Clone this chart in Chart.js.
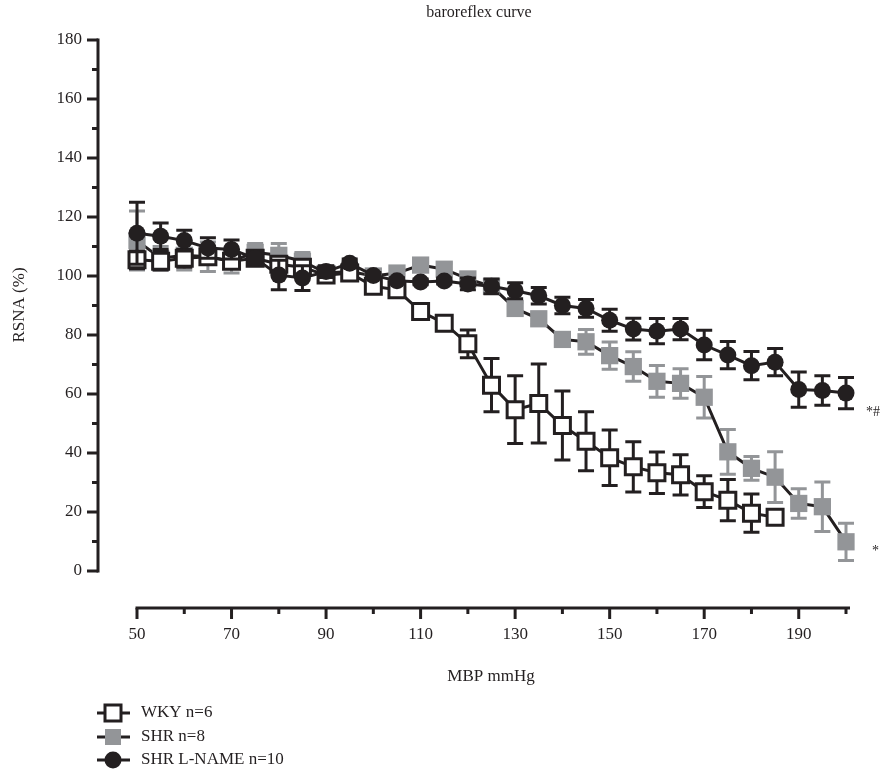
<!DOCTYPE html>
<html>
<head>
<meta charset="utf-8">
<script src="https://cdn.jsdelivr.net/npm/chart.js@4.4.1/dist/chart.umd.min.js"></script>
<style>
html, body { margin: 0; padding: 0; background: #fff; }
</style>
</head>
<body>
<canvas id="myChart" width="888" height="780"></canvas>
<script>
/* data */
const mbp = [50, 55, 60, 65, 70, 75, 80, 85, 90, 95, 100, 105, 110, 115, 120, 125,
    130, 135, 140, 145, 150, 155, 160, 165, 170, 175, 180, 185, 190, 195, 200];

const wky = [105.5, 105, 106, 106.5, 105, 106, 104, 103, 100.3, 101, 96.5, 95.3, 88, 84,
    77, 63, 54.7, 56.8, 49.3, 44, 38.4, 35.3, 33.3, 32.6, 26.9, 24, 19.6, 18.2];
const wkyErr = [3, 3, 3, 2, 2, 2, 2, 2, 1.5, 1.5, 1.5, 1.5, 2, 2.5, 4.7, 9, 11.5, 13.4,
    11.7, 10, 9.4, 8.5, 7, 6.8, 5.4, 7, 6.5, 2];

const shr = [112, 106, 107, 106.5, 105, 108, 107, 105, 101, 101.5, 100, 101, 103.7, 102.3,
    99, 96.5, 89, 85.5, 78.5, 77.7, 73, 69.3, 64.3, 63.6, 58.9, 40.4, 34.8, 31.8, 22.9, 21.8, 9.9];
const shrErr = [10, 4, 5, 5, 4, 3, 4, 3, 2, 2, 2, 2, 2, 2, 2, 2, 2, 2, 2, 4.2, 4.6, 5, 5.4,
    5, 7, 7.6, 4, 8.6, 5, 8.4, 6.3];

const lname = [114.5, 113.5, 112, 109.5, 109, 106, 100.3, 99.3, 101.5, 104.3, 100.2, 98.4,
    98, 98.3, 97.3, 96.5, 95, 93.3, 90, 89, 85, 82, 81.3, 82, 76.6, 73.2, 69.6, 70.8, 61.5, 61.2, 60.3];
const lnameErr = [10.5, 4.5, 3.5, 3.5, 3.2, 2, 5, 4.2, 2, 1.5, 1, 1, 1, 1, 2, 2.5, 2.7, 2.8,
    2.8, 3, 3.7, 3.7, 4.3, 3.6, 5, 4.6, 4.8, 4.6, 6, 5, 5.3];

const seriesNames = ["WKY n=6", "SHR n=8", "SHR L-NAME n=10"];
const xTicks = [50, 60, 70, 80, 90, 100, 110, 120, 130, 140, 150, 160, 170, 180, 190, 200];
const yTicks = [0, 10, 20, 30, 40, 50, 60, 70, 80, 90, 100, 110, 120, 130, 140, 150, 160, 170, 180];

const ink = "#231f20";
const grey = "#939598";
const serif = "'Liberation Serif', 'DejaVu Serif', serif";

function pts(vals) {
    return vals.map((v, i) => ({ x: mbp[i], y: v }));
}

/* error bars, drawn under each dataset */
const errorBars = {
    id: "errorBars",
    beforeDatasetDraw(chart, args) {
        const ds = chart.data.datasets[args.index];
        const xs = chart.scales.x, ys = chart.scales.y;
        const ctx = chart.ctx;
        ctx.save();
        ctx.strokeStyle = ds.errColor;
        ctx.lineWidth = 3;
        ds.data.forEach((p, i) => {
            const e = ds.errors[i];
            const px = xs.getPixelForValue(p.x);
            const top = ys.getPixelForValue(p.y + e);
            const bot = ys.getPixelForValue(p.y - e);
            ctx.beginPath();
            ctx.moveTo(px, top); ctx.lineTo(px, bot);
            ctx.moveTo(px - 8, top); ctx.lineTo(px + 8, top);
            ctx.moveTo(px - 8, bot); ctx.lineTo(px + 8, bot);
            ctx.stroke();
        });
        ctx.restore();
    }
};

/* detached axes, titles, notes and legend */
const decor = {
    id: "decor",
    afterDraw(chart) {
        const ctx = chart.ctx;
        const xs = chart.scales.x, ys = chart.scales.y;
        const ca = chart.chartArea;
        const axX = ca.left - 39;
        const axY = ca.bottom + 37;
        ctx.save();
        ctx.strokeStyle = ink;
        ctx.fillStyle = ink;
        ctx.lineWidth = 3;
        ctx.lineCap = "butt";

        // y axis
        ctx.beginPath();
        ctx.moveTo(axX, ys.getPixelForValue(180) - 1.5);
        ctx.lineTo(axX, ys.getPixelForValue(0) + 1.5);
        ctx.stroke();
        ctx.font = "17px " + serif;
        ctx.textAlign = "right";
        ctx.textBaseline = "middle";
        yTicks.forEach((t) => {
            const py = ys.getPixelForValue(t);
            const major = t % 20 === 0;
            ctx.beginPath();
            ctx.moveTo(axX, py);
            ctx.lineTo(axX - (major ? 11 : 6), py);
            ctx.stroke();
            if (major) ctx.fillText(String(t), axX - 16, py);
        });

        // x axis
        ctx.beginPath();
        ctx.moveTo(xs.getPixelForValue(50) - 1.5, axY);
        ctx.lineTo(xs.getPixelForValue(200) + 4, axY);
        ctx.stroke();
        ctx.textAlign = "center";
        ctx.textBaseline = "top";
        xTicks.forEach((t) => {
            const px = xs.getPixelForValue(t);
            const major = (t - 50) % 20 === 0;
            ctx.beginPath();
            ctx.moveTo(px, axY);
            ctx.lineTo(px, axY + (major ? 11 : 6));
            ctx.stroke();
            if (major && t < 200) ctx.fillText(String(t), px, axY + 18);
        });

        // titles
        ctx.font = "16px " + serif;
        ctx.textBaseline = "middle";
        ctx.fillText("baroreflex curve", 479, 13);
        ctx.font = "17px " + serif;
        ctx.fillText("MBP mmHg", 491, 677);
        ctx.save();
        ctx.translate(20, 305);
        ctx.rotate(-Math.PI / 2);
        ctx.fillText("RSNA (%)", 0, 0);
        ctx.restore();

        // significance marks
        ctx.font = "14px " + serif;
        ctx.textAlign = "left";
        ctx.fillText("*#", 866, 412);
        ctx.fillText("*", 872, 551);

        // legend
        const rows = [713, 737, 760];
        ctx.font = "17px " + serif;
        rows.forEach((ry, i) => {
            ctx.strokeStyle = ink;
            ctx.lineWidth = 3;
            ctx.beginPath();
            ctx.moveTo(97, ry); ctx.lineTo(130, ry);
            ctx.stroke();
            if (i === 0) {
                ctx.fillStyle = "#fff";
                ctx.fillRect(105, ry - 8, 16, 16);
                ctx.strokeRect(105, ry - 8, 16, 16);
            } else if (i === 1) {
                ctx.fillStyle = grey;
                ctx.fillRect(105, ry - 8, 16, 16);
            } else {
                ctx.fillStyle = ink;
                ctx.beginPath();
                ctx.arc(113, ry, 8.5, 0, Math.PI * 2);
                ctx.fill();
            }
            ctx.fillStyle = ink;
            ctx.textBaseline = "middle";
            ctx.fillText(seriesNames[i], 141, ry);
        });
        ctx.restore();
    }
};

const data = {
    datasets: [
        {
            label: seriesNames[2],
            data: pts(lname),
            errors: lnameErr,
            errColor: ink,
            order: 0,
            borderColor: ink,
            borderWidth: 3,
            pointStyle: "circle",
            pointRadius: 8.5,
            pointBorderWidth: 0,
            pointBackgroundColor: ink,
            clip: false,
        },
        {
            label: seriesNames[0],
            data: pts(wky),
            errors: wkyErr,
            errColor: ink,
            order: 1,
            borderColor: ink,
            borderWidth: 3,
            pointStyle: "rect",
            pointRadius: 11.3,
            pointBorderWidth: 3,
            pointBorderColor: ink,
            pointBackgroundColor: "#fff",
            clip: false,
        },
        {
            label: seriesNames[1],
            data: pts(shr),
            errors: shrErr,
            errColor: grey,
            order: 2,
            borderColor: ink,
            borderWidth: 3,
            pointStyle: "rect",
            pointRadius: 12.2,
            pointBorderWidth: 0,
            pointBackgroundColor: grey,
            clip: false,
        },
    ],
};

const config = {
    type: "line",
    data: data,
    plugins: [errorBars, decor],
    options: {
        responsive: false,
        animation: false,
        layout: { padding: { left: 137, right: 42, top: 40, bottom: 209 } },
        plugins: {
            legend: { display: false },
            tooltip: { enabled: false },
        },
        elements: { line: { tension: 0 } },
        scales: {
            x: { type: "linear", min: 50, max: 200, display: false },
            y: { type: "linear", min: 0, max: 180, display: false },
        },
    },
};
const myChart = new Chart(document.getElementById("myChart"), config);
</script>
</body>
</html>
